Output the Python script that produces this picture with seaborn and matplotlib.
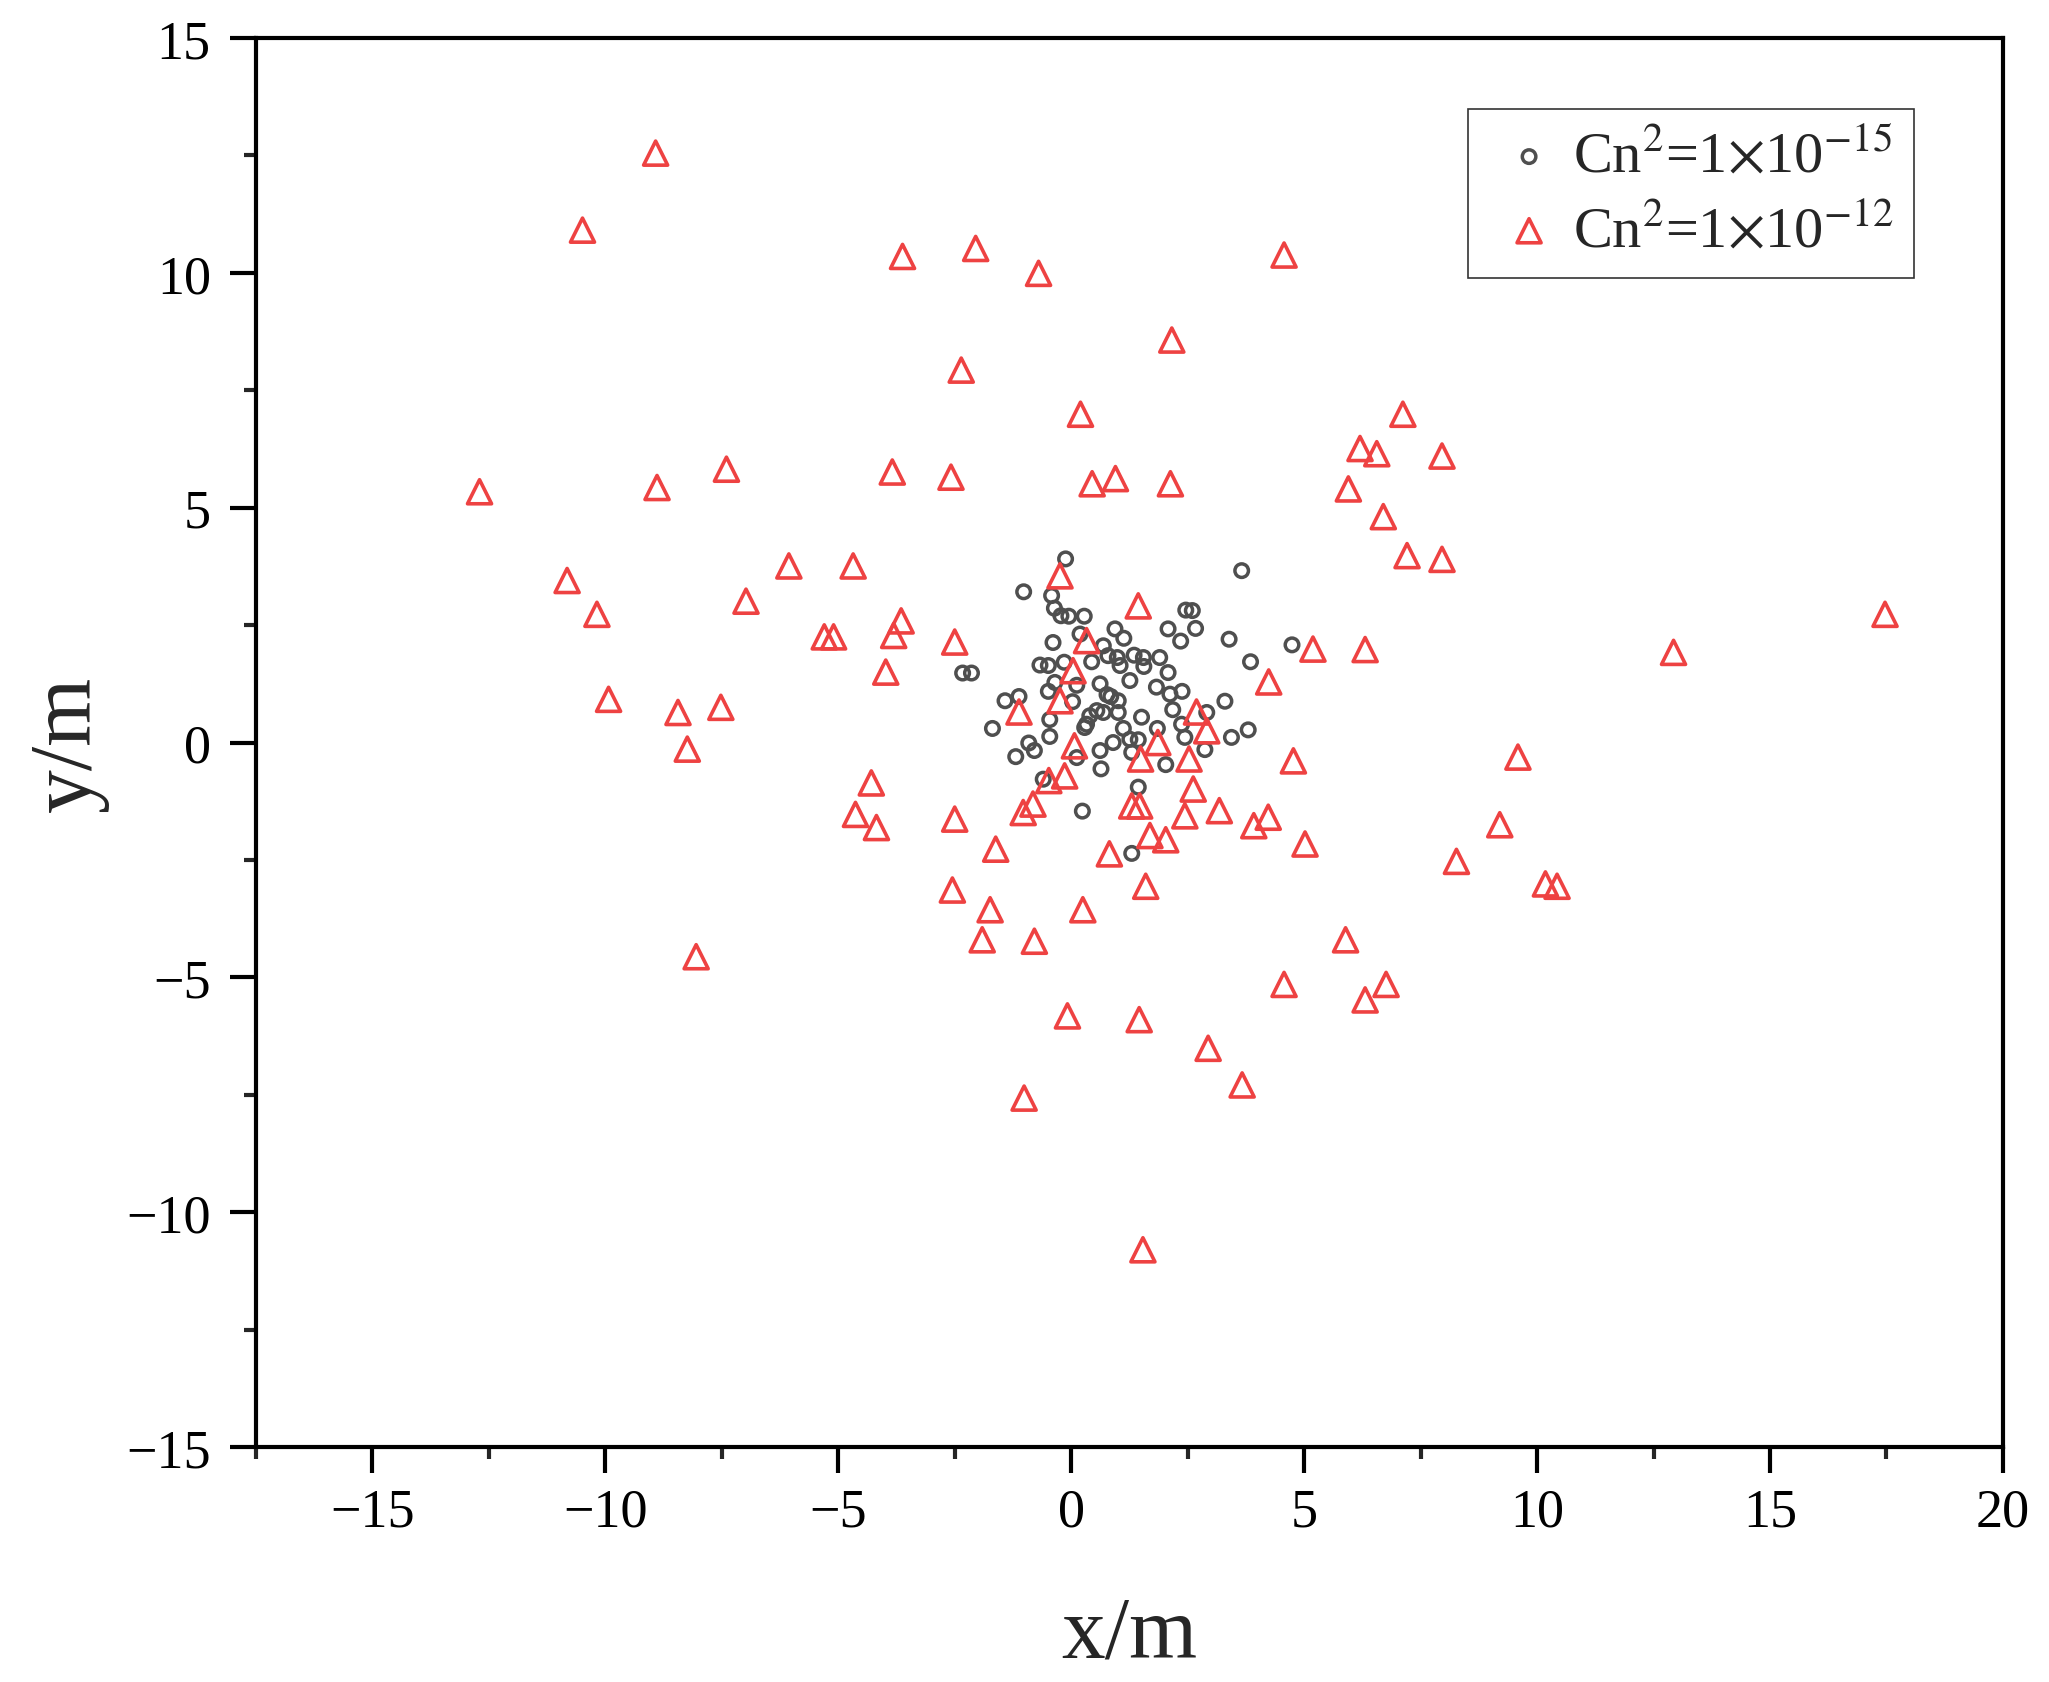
import numpy as np
import matplotlib
matplotlib.use("Agg")
import matplotlib.pyplot as plt
import seaborn as sns
from matplotlib.ticker import MultipleLocator

# Cn2 = 1e-15 (grey circles)
weak_x = [-0.12, 3.66, -1.02, -0.42, -0.36, -0.22, -0.05, 0.28, 2.46, 2.60,
          0.94, 1.13, 2.08, 2.67, 2.35, 3.39, 4.74, -0.39, 0.19, 0.69,
          0.79, 0.99, 1.05, 1.35, 1.55, 1.56, 1.90, 2.08, 3.85, -0.67,
          -0.49, -0.15, 0.44, -2.33, -2.14, -0.35, 0.12, 0.62, 1.26, -0.49,
          1.83, 2.12, 2.38, 0.77, 0.85, 1.01, 0.03, -1.42, -1.12, 3.30,
          2.18, 2.91, 0.55, 0.69, 0.40, 1.01, 1.51, -0.46, 0.33, 1.12,
          0.29, -1.69, 2.37, 3.80, 3.44, -0.46, 2.44, 1.85, 1.26, 1.44,
          0.90, 0.62, 1.30, -0.91, -0.79, -1.19, 0.12, 2.87, 2.03, 0.64,
          -0.60, 1.44, 0.24, 1.30]
weak_y = [3.91, 3.66, 3.21, 3.13, 2.86, 2.70, 2.69, 2.69, 2.82, 2.81,
          2.42, 2.22, 2.42, 2.43, 2.16, 2.20, 2.08, 2.13, 2.31, 2.06,
          1.85, 1.81, 1.64, 1.86, 1.81, 1.62, 1.81, 1.49, 1.72, 1.65,
          1.64, 1.71, 1.72, 1.48, 1.48, 1.28, 1.22, 1.25, 1.32, 1.09,
          1.18, 1.03, 1.09, 1.02, 0.98, 0.89, 0.87, 0.89, 0.98, 0.88,
          0.70, 0.64, 0.68, 0.64, 0.57, 0.64, 0.54, 0.49, 0.39, 0.30,
          0.32, 0.30, 0.39, 0.27, 0.11, 0.13, 0.11, 0.30, 0.07, 0.06,
          0.00, -0.17, -0.21, -0.01, -0.17, -0.30, -0.32, -0.15, -0.47, -0.56,
          -0.78, -0.95, -1.46, -2.36]

# Cn2 = 1e-12 (red triangles)
strong_x = [-8.92, -10.49, -3.62, -2.05, -0.70, 4.57, 2.16, -2.36, 0.20, 7.12,
            6.20, 6.56, 7.96, -12.70, -8.89, -7.40, -3.84, -2.58, 0.45, 0.95,
            2.13, 5.95, 6.70, 7.21, 7.96, -10.82, -10.18, -6.06, -4.68, -6.98,
            -0.24, -3.65, -3.81, -5.30, -5.10, -2.50, 1.44, 0.33, 5.19, 6.31,
            12.93, 17.47, -3.98, 0.04, 4.24, -9.93, -8.44, -7.52, -1.12, -0.24,
            2.69, 2.91, -8.24, 0.07, 1.86, 1.49, 2.53, 4.77, 9.59, -4.29,
            -0.14, -0.48, 2.62, -4.63, -4.18, -1.03, -0.82, -2.50, 1.30, 1.47,
            2.44, 3.18, 3.92, 4.23, 1.69, 2.03, 0.82, 5.02, -1.62, 9.20,
            8.27, 10.18, 10.43, 1.60, -2.55, -1.74, 0.25, -1.91, -0.79, -8.05,
            5.89, 4.57, 6.31, 6.76, -0.08, 1.46, 2.94, 3.67, -1.01, 1.54]
strong_y = [12.55, 10.91, 10.35, 10.52, 9.99, 10.38, 8.57, 7.93, 6.99, 6.99,
            6.26, 6.15, 6.10, 5.34, 5.43, 5.82, 5.76, 5.65, 5.51, 5.62,
            5.51, 5.40, 4.81, 3.98, 3.90, 3.45, 2.73, 3.76, 3.76, 3.01,
            3.55, 2.59, 2.28, 2.25, 2.25, 2.14, 2.91, 2.17, 1.99, 1.98,
            1.92, 2.73, 1.50, 1.53, 1.29, 0.92, 0.64, 0.75, 0.65, 0.89,
            0.65, 0.25, -0.14, -0.07, 0.00, -0.35, -0.35, -0.39, -0.31, -0.86,
            -0.71, -0.81, -0.99, -1.53, -1.81, -1.49, -1.31, -1.63, -1.35, -1.35,
            -1.56, -1.45, -1.77, -1.59, -1.98, -2.07, -2.37, -2.16, -2.27, -1.75,
            -2.53, -3.01, -3.06, -3.06, -3.14, -3.56, -3.56, -4.20, -4.23, -4.56,
            -4.20, -5.15, -5.48, -5.15, -5.82, -5.90, -6.51, -7.29, -7.57, -10.80]

labels = [r"Cn$^{2}$=1$\times$10$^{-15}$", r"Cn$^{2}$=1$\times$10$^{-12}$"]

sns.set_style("ticks")
plt.rcParams["font.family"] = ["Liberation Serif", "DejaVu Serif"]
plt.rcParams["mathtext.fontset"] = "stix"
plt.rcParams["axes.unicode_minus"] = True

fig = plt.figure(figsize=(20.49, 16.83), dpi=100)
ax = fig.add_axes([0.1249, 0.1396, 0.8526, 0.8372])

sns.scatterplot(x=weak_x, y=weak_y, ax=ax, marker="o",
                label=labels[0], zorder=2)
sns.scatterplot(x=strong_x, y=strong_y, ax=ax, marker="^",
                label=labels[1], zorder=3)

# hollow markers: set the look on the collections directly
styles = [("#4F4F4F", 95, 2.5), ("#EE4242", 300, 2.6)]
for coll, (col, size, lw) in zip(ax.collections, styles):
    coll.set_facecolor("none")
    coll.set_edgecolor(col)
    coll.set_sizes([size])
    coll.set_linewidths([lw])

ax.set_xlim(-17.5, 20)
ax.set_ylim(-15, 15)
ax.xaxis.set_major_locator(MultipleLocator(5))
ax.xaxis.set_minor_locator(MultipleLocator(2.5))
ax.yaxis.set_major_locator(MultipleLocator(5))
ax.yaxis.set_minor_locator(MultipleLocator(2.5))

for s in ax.spines.values():
    s.set_visible(True)
    s.set_linewidth(3)
    s.set_color("black")

ax.tick_params(which="major", direction="out", length=18.5, width=3,
               labelsize=39, colors="black")
ax.tick_params(which="minor", direction="out", length=8.5, width=3)
ax.tick_params(axis="x", which="major", pad=10)
ax.tick_params(axis="y", which="major", pad=14)
ax.tick_params(top=False, right=False, which="both")

ax.set_xlabel("x/m", fontsize=63)
ax.xaxis.set_label_coords(0.5, (1448 - 1657) / 1409)
ax.xaxis.label.set_verticalalignment("baseline")
ax.set_ylabel("y/m", fontsize=63)
ax.yaxis.set_label_coords((90 - 256) / 1747, 0.5)
ax.yaxis.label.set_verticalalignment("baseline")

leg = ax.legend(loc="upper right", bbox_to_anchor=(0.949, 0.9496),
                borderaxespad=0, fontsize=42, frameon=True, fancybox=False,
                handlelength=1.4, handletextpad=0.05, labelspacing=0.35,
                borderpad=0.35)
leg.get_frame().set_edgecolor("black")
leg.get_frame().set_linewidth(1.2)

plt.savefig("out.png", dpi=100)
